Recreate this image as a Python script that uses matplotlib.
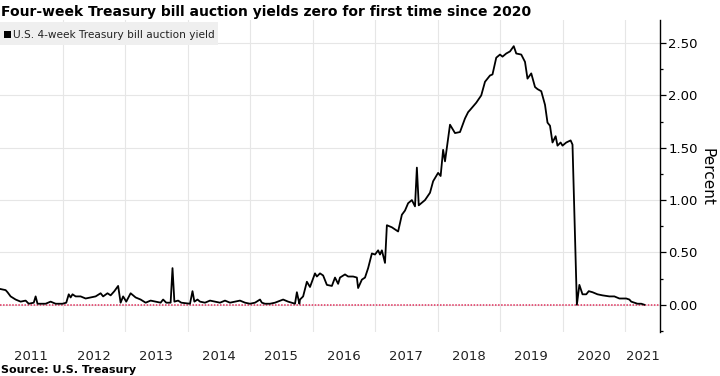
import matplotlib
matplotlib.use("Agg")
import matplotlib.pyplot as plt
from matplotlib import font_manager
from matplotlib.patches import Rectangle
from matplotlib.ticker import FixedLocator, MultipleLocator, NullFormatter

# ---- data ----
years = [2011.01, 2011.09, 2011.12, 2011.17, 2011.25, 2011.33, 2011.41, 2011.46, 2011.54, 2011.57,
         2011.60, 2011.73, 2011.81, 2011.89, 2012.00, 2012.06, 2012.10, 2012.13, 2012.16, 2012.21,
         2012.29, 2012.37, 2012.45, 2012.53, 2012.61, 2012.65, 2012.72, 2012.77, 2012.83, 2012.89,
         2012.93, 2012.97, 2013.02, 2013.09, 2013.17, 2013.25, 2013.33, 2013.41, 2013.49, 2013.57,
         2013.61, 2013.66, 2013.73, 2013.76, 2013.79, 2013.85, 2013.90, 2014.04, 2014.08, 2014.11,
         2014.16, 2014.20, 2014.28, 2014.36, 2014.44, 2014.52, 2014.60, 2014.68, 2014.76, 2014.84,
         2014.92, 2015.00, 2015.08, 2015.16, 2015.19, 2015.24, 2015.32, 2015.40, 2015.53, 2015.61,
         2015.72, 2015.75, 2015.79, 2015.80, 2015.85, 2015.91, 2015.96, 2016.04, 2016.07, 2016.12,
         2016.17, 2016.23, 2016.31, 2016.36, 2016.41, 2016.44, 2016.52, 2016.57, 2016.65, 2016.71,
         2016.73, 2016.79, 2016.84, 2016.89, 2016.95, 2017.00, 2017.05, 2017.08, 2017.11, 2017.16,
         2017.19, 2017.27, 2017.37, 2017.43, 2017.48, 2017.53, 2017.59, 2017.64, 2017.67, 2017.70,
         2017.80, 2017.88, 2017.93, 2018.01, 2018.05, 2018.09, 2018.12, 2018.20, 2018.28, 2018.36,
         2018.44, 2018.49, 2018.52, 2018.62, 2018.70, 2018.76, 2018.84, 2018.88, 2018.94, 2019.00,
         2019.04, 2019.10, 2019.16, 2019.22, 2019.26, 2019.34, 2019.40, 2019.44, 2019.50, 2019.56,
         2019.60, 2019.66, 2019.72, 2019.76, 2019.80, 2019.84, 2019.89, 2019.92, 2019.97, 2020.00,
         2020.06, 2020.13, 2020.16, 2020.23, 2020.27, 2020.32, 2020.38, 2020.42, 2020.48, 2020.56,
         2020.64, 2020.75, 2020.83, 2020.91, 2021.02, 2021.07, 2021.10, 2021.15, 2021.20, 2021.26,
         2021.31]
yields = [0.15, 0.14, 0.12, 0.08, 0.05, 0.03, 0.04, 0.01, 0.02, 0.08,
          0.01, 0.01, 0.03, 0.01, 0.01, 0.02, 0.10, 0.07, 0.10, 0.08,
          0.08, 0.06, 0.07, 0.08, 0.11, 0.08, 0.11, 0.09, 0.13, 0.18,
          0.02, 0.08, 0.03, 0.11, 0.07, 0.05, 0.02, 0.04, 0.03, 0.02,
          0.05, 0.02, 0.02, 0.35, 0.03, 0.04, 0.02, 0.01, 0.13, 0.03,
          0.05, 0.03, 0.02, 0.04, 0.03, 0.02, 0.04, 0.02, 0.03, 0.04,
          0.02, 0.01, 0.02, 0.05, 0.02, 0.01, 0.01, 0.02, 0.05, 0.03,
          0.01, 0.12, 0.01, 0.05, 0.08, 0.22, 0.17, 0.30, 0.27, 0.30,
          0.28, 0.19, 0.18, 0.26, 0.20, 0.26, 0.29, 0.27, 0.27, 0.26,
          0.16, 0.24, 0.26, 0.35, 0.49, 0.48, 0.52, 0.48, 0.52, 0.40,
          0.76, 0.74, 0.70, 0.86, 0.90, 0.97, 1.00, 0.94, 1.31, 0.95,
          1.00, 1.07, 1.18, 1.26, 1.23, 1.48, 1.37, 1.72, 1.64, 1.65,
          1.78, 1.84, 1.86, 1.93, 2.00, 2.13, 2.19, 2.20, 2.36, 2.39,
          2.37, 2.40, 2.42, 2.47, 2.40, 2.39, 2.32, 2.16, 2.21, 2.08,
          2.06, 2.04, 1.91, 1.74, 1.71, 1.55, 1.61, 1.52, 1.55, 1.52,
          1.55, 1.57, 1.53, 0.00, 0.19, 0.10, 0.10, 0.13, 0.12, 0.10,
          0.09, 0.08, 0.08, 0.06, 0.06, 0.05, 0.03, 0.02, 0.01, 0.01,
          0.00]
year_labels = ["2011", "2012", "2013", "2014", "2015", "2016", "2017", "2018", "2019", "2020", "2021"]
label_pos = [2011.5, 2012.5, 2013.5, 2014.5, 2015.5, 2016.5, 2017.5, 2018.5, 2019.5, 2020.5, 2021.28]
year_bounds = [2012, 2013, 2014, 2015, 2016, 2017, 2018, 2019, 2020, 2021]
y_ticks = [0.0, 0.5, 1.0, 1.5, 2.0, 2.5]

# ---- fonts ----
names = {f.name for f in font_manager.fontManager.ttflist}
narrow = "Liberation Sans Narrow" if "Liberation Sans Narrow" in names else "DejaVu Sans"
plt.rcParams["font.family"] = [narrow, "DejaVu Sans"]

W, H = 720, 376
fig = plt.figure(figsize=(W / 100, H / 100), dpi=100)
ax = fig.add_axes([0.0, 1 - 332 / H, 660 / W, (332 - 20) / H])

ax.plot(years, yields, color="black", lw=1.3, zorder=3)
ax.axhline(0, color="#e0305c", lw=1.1, ls=(0, (1, 1)), zorder=2)

ax.set_xlim(2011.0, 2021.56)
ax.set_ylim(-0.26, 2.72)

# grid
ax.xaxis.set_major_locator(FixedLocator(year_bounds))
ax.xaxis.set_major_formatter(NullFormatter())
ax.xaxis.set_minor_locator(FixedLocator(label_pos))
ax.set_xticklabels(year_labels, minor=True)
ax.tick_params(axis="x", which="both", length=0, labelsize=9.5, pad=13, colors="#222222")
ax.grid(axis="x", which="major", color="#e6e6e6", lw=0.8, zorder=0)

ax.yaxis.tick_right()
ax.yaxis.set_label_position("right")
ax.set_yticks(y_ticks)
ax.set_yticklabels([f"{v:.2f}" for v in y_ticks])
ax.yaxis.set_minor_locator(MultipleLocator(0.25))
ax.tick_params(axis="y", which="major", length=4, width=0.9, labelsize=9.5, pad=2, colors="black")
ax.tick_params(axis="y", which="minor", length=2.5, width=0.9)
ax.grid(axis="y", which="major", color="#e6e6e6", lw=0.8, zorder=0)
ax.set_axisbelow(True)

for s in ["top", "bottom", "left"]:
    ax.spines[s].set_visible(False)
ax.spines["right"].set_color("black")
ax.spines["right"].set_linewidth(1.0)

fig.text(707 / W, 1 - 177 / H, "Percent", rotation=270, ha="center", va="center", fontsize=11)

# title / source
fig.text(0.002, 1 - 16 / H, "Four-week Treasury bill auction yields zero for first time since 2020",
         fontsize=10, fontweight="bold", family=["DejaVu Sans"], va="baseline", ha="left")
fig.text(0.002, 1 - 373 / H, "Source: U.S. Treasury", fontsize=8, fontweight="bold",
         family=["DejaVu Sans"], va="baseline", ha="left")

# legend box
fig.patches.append(Rectangle((0, 1 - 45 / H), 218 / W, 23 / H, transform=fig.transFigure,
                             facecolor="#efefef", edgecolor="none", zorder=5))
fig.patches.append(Rectangle((4 / W, 1 - 38 / H), 7 / W, 7 / H, transform=fig.transFigure,
                             facecolor="black", edgecolor="none", zorder=6))
fig.text(13 / W, 1 - 38 / H, "U.S. 4-week Treasury bill auction yield", fontsize=7.6,
         va="baseline", ha="left", zorder=6, color="#222222")

fig.savefig("out.png", dpi=100)
